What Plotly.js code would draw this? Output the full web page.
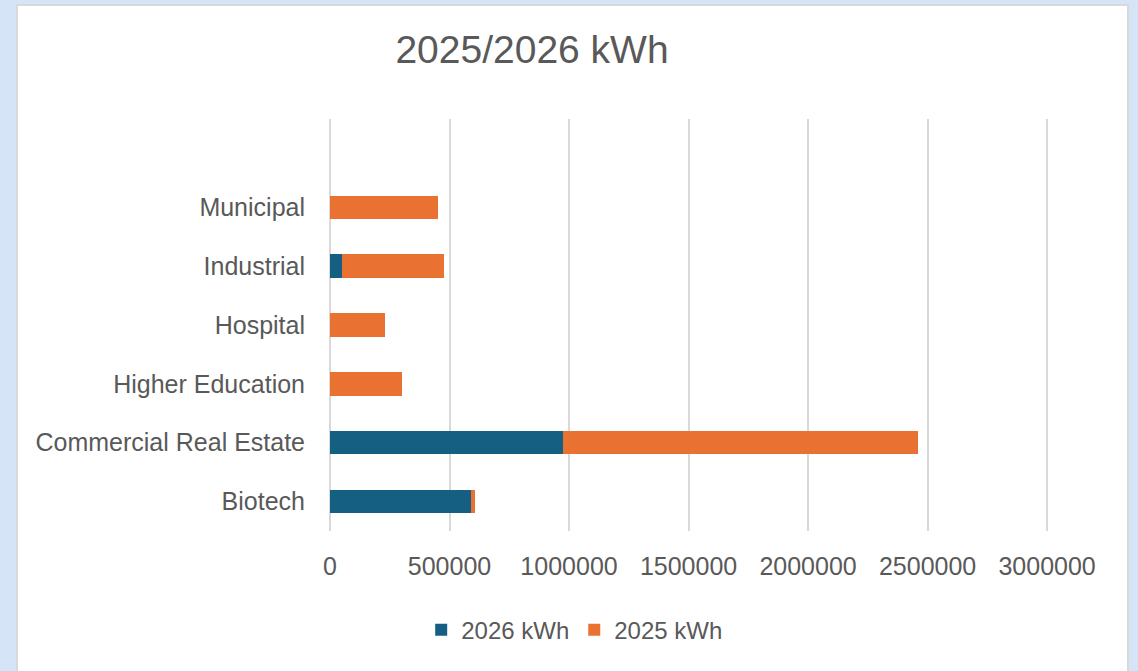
<!DOCTYPE html>
<html>
<head>
<meta charset="utf-8">
<script src="https://cdn.plot.ly/plotly-3.0.1.min.js"></script>
<style>
  html, body { margin:0; padding:0; width:1138px; height:671px; overflow:hidden; background:#d6e4f8; }
  #frame { position:absolute; left:16px; top:4px; width:1109px; height:680px; background:#ffffff; border:2px solid #d9d9d9; }
  #chart { position:absolute; left:0; top:0; width:1138px; height:671px; }
</style>
</head>
<body>
<div id="frame"></div>
<div id="chart"></div>
<script>
const categories = ['Biotech', 'Commercial Real Estate', 'Higher Education', 'Hospital', 'Industrial', 'Municipal'];
const kwh2026 = [589000, 975000, 0, 0, 50000, 0];
const kwh2025 = [18000, 1485000, 303000, 230000, 427000, 452000];
const xTicks = [0, 500000, 1000000, 1500000, 2000000, 2500000, 3000000];
const xTickLabels = ['0', '500000', '1000000', '1500000', '2000000', '2500000', '3000000'];

const FONT = 'Liberation Sans, Arial, sans-serif';
const TXT = '#595959';

const traces = [
  { type:'bar', orientation:'h', name:'2026 kWh', y:categories, x:kwh2026,
    marker:{ color:'#156082', line:{ width:0 } }, width:0.4 },
  { type:'bar', orientation:'h', name:'2025 kWh', y:categories, x:kwh2025,
    marker:{ color:'#e97132', line:{ width:0 } }, width:0.4 }
];

const layout = {
  width:1138, height:671,
  paper_bgcolor:'rgba(0,0,0,0)', plot_bgcolor:'rgba(0,0,0,0)',
  margin:{ l:330, r:89, t:119, b:140, pad:0 },
  barmode:'stack',
  font:{ family:FONT, color:TXT, size:25 },
  title:{ text:'2025/2026 kWh', font:{ family:FONT, size:39, color:TXT },
    xref:'container', yref:'container', x:0.4675, y:0.927, xanchor:'center', yanchor:'middle' },
  xaxis:{ range:[0, 3008000], tickvals:xTicks, ticktext:xTickLabels,
    showgrid:true, gridcolor:'#d9d9d9', gridwidth:2,
    zeroline:true, zerolinecolor:'#d9d9d9', zerolinewidth:2,
    showline:false, ticks:'', ticklabelstandoff:18,
    tickfont:{ family:FONT, size:25, color:TXT }, fixedrange:true },
  yaxis:{ type:'category', categoryorder:'array', categoryarray:categories,
    range:[-0.5, 6.5], showgrid:false, zeroline:false, showline:false, ticks:'',
    ticklabelstandoff:24, tickfont:{ family:FONT, size:25, color:TXT }, fixedrange:true },
  showlegend:true,
  legend:{ orientation:'h', xref:'container', yref:'container', x:0.505, y:0.061,
    xanchor:'center', yanchor:'middle', font:{ family:FONT, size:24, color:TXT },
    bgcolor:'rgba(0,0,0,0)', traceorder:'normal' }
};

Plotly.newPlot('chart', traces, layout, { staticPlot:true, displayModeBar:false });
</script>
</body>
</html>
